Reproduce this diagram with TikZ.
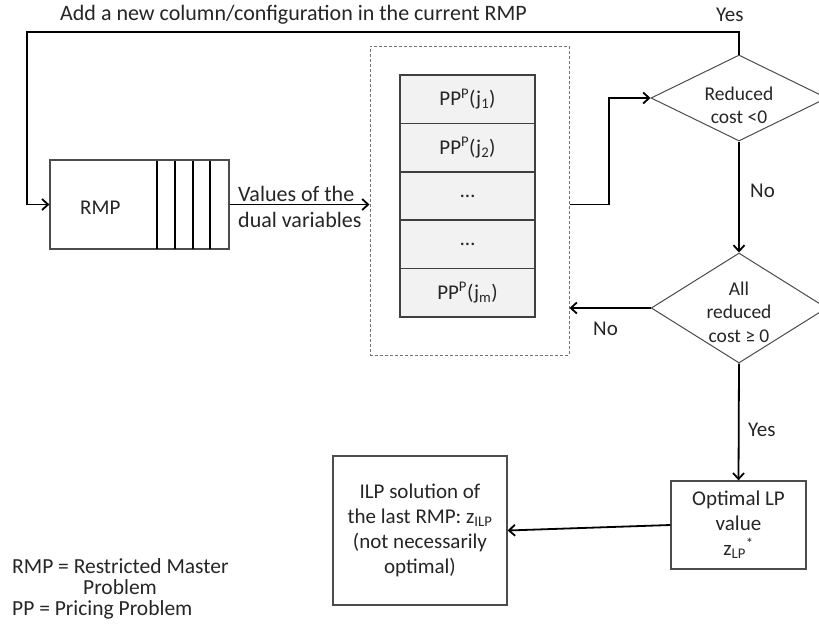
\documentclass[tikz,border=0pt]{standalone}
\usepackage{fontspec}
\setmainfont{Carlito}
\usetikzlibrary{arrows.meta,shapes.geometric}
\begin{document}
\begin{tikzpicture}[x=1pt,y=-1pt,
  txt/.style={font=\fontsize{21}{25}\selectfont, text=black!85, inner sep=0pt},
  btxt/.style={font=\fontsize{22}{26}\selectfont, text=black!85, inner sep=0pt, anchor=base west},
  lgd/.style={font=\fontsize{21.5}{21}\selectfont, text=black!85, inner sep=0pt, anchor=base west},
  dtxt/.style={font=\fontsize{19.5}{23.5}\selectfont, text=black!85},
  conn/.style={line width=1.8pt, draw=black},
  arr/.style={conn, -{Straight Barb[length=6pt,width=11pt]}},
  box/.style={rectangle, draw=black!70, line width=1.3pt, inner sep=0pt, align=center},
  ppbox/.style={box, txt, fill=black!5, draw=black!75, line width=1.6pt, minimum width=135pt, minimum height=48.4pt},
  dia/.style={diamond, draw=black!70, line width=1pt, inner sep=0pt, align=center, dtxt},
  lbl/.style={txt, anchor=base west}]
\useasboundingbox (0,0) rectangle (819,630);
\fill[white] (0,0) rectangle (819,630);
% RMP box
\node[box, minimum width=179pt, minimum height=89pt] (rmp) at (139.5,204.5) {};
\node[lbl] (rmplbl) at (80,214) {RMP};
\foreach \x in {157,175,193,210} \draw[line width=1.8pt] (\x,160.5) -- (\x,248.5);
% dashed container
\node[rectangle, draw=black!55, dash pattern=on 3pt off 2pt, line width=1pt, minimum width=199pt, minimum height=309pt, inner sep=0pt] (dash) at (469.5,200.5) {};
% pricing problems
\node[ppbox] (pp1) at (467.5,99.2) {PP\textsuperscript{P}(j\textsubscript{1})};
\node[ppbox] (pp2) at (467.5,147.6) {PP\textsuperscript{P}(j\textsubscript{2})};
\node[ppbox] (pp3) at (467.5,196.0) {…};
\node[ppbox] (pp4) at (467.5,244.4) {…};
\node[ppbox] (pp5) at (467.5,292.8) {PP\textsuperscript{P}(j\textsubscript{m})};
% decisions
\node[dia, minimum width=176pt, minimum height=86pt, shape aspect=2] (d1) at (739,98) {\rule{0pt}{28pt}Reduced\\cost <0};
\node[dia, minimum width=174pt, minimum height=110pt, shape aspect=1.6] (d2) at (739,308) {\rule{0pt}{22pt}All\\reduced\\cost ≥ 0};
% result boxes
\node[box, txt, minimum width=135pt, minimum height=88pt] (opt) at (738.5,525) {Optimal LP\\value\\z\textsubscript{LP}\textsuperscript{*}};
\node[box, txt, minimum width=174pt, minimum height=149pt] (ilp) at (420,530.5) {ILP solution of\\the last RMP: z\textsubscript{ILP}\\(not necessarily\\optimal)};
% connectors
\coordinate (tl) at (27,32);
\coordinate (kn) at (609,98);
\draw[arr] (d1.north) |- (tl) |- (rmp.west);
\draw[arr] (rmp.east) -- (rmp.east -| dash.west);
\draw[arr] (dash.east |- rmp.east) -| (kn) -- (d1.west);
\draw[arr] (d1.south) -- (d2.north);
\draw[arr] (d2.west) -- (d2.west -| dash.east);
\draw[arr] (d2.south) -- (opt.north);
\draw[arr] (opt.west) -- (ilp.east);
% labels
\node[btxt] (toptxt) at (60,20) {Add a new column/configuration in the current RMP};
\node[lbl] (yes1) at (716,21) {Yes};
\node[btxt] (val1) at (238,201) {Values of the};
\node[btxt] (val2) at (238,227) {dual variables};
\node[lbl] (no1) at (750,197) {No};
\node[lbl] (no2) at (593,335) {No};
\node[lbl] (yes2) at (748,436) {Yes};
% legend
\node[lgd] (leg1) at (12,573) {RMP = Restricted Master};
\node[lgd] (leg2) at (83,594) {Problem};
\node[lgd] (leg3) at (12,615) {PP = Pricing Problem};
\end{tikzpicture}
\end{document}
